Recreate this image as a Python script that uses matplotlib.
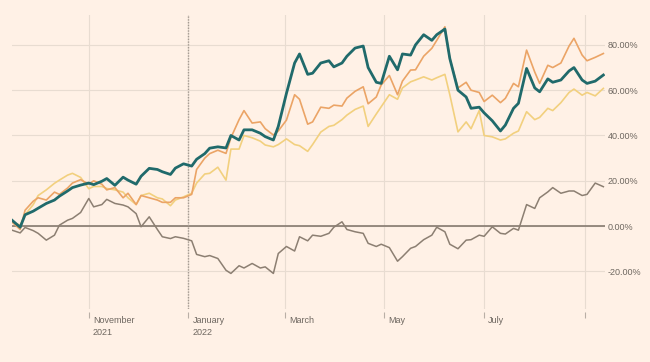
import matplotlib
matplotlib.use("Agg")
import matplotlib.pyplot as plt
import pandas as pd
from matplotlib.transforms import ScaledTranslation, blended_transform_factory

# ---- data (cumulative return, %) ----
dates = pd.bdate_range("2021-09-15", "2022-09-12")[::3]

teal = [2.6, -0.5, 5.0, 6.6, 7.9, 10.0, 11.5, 13.2, 15.5, 17.0,
        18.1, 19.0, 18.3, 19.8, 21.0, 18.0, 21.6, 20.3, 18.5, 22.0,
        25.5, 25.0, 24.0, 22.8, 25.6, 27.5, 26.5, 29.5, 32.0, 34.4,
        35.0, 34.5, 40.0, 38.0, 42.5, 42.5, 41.0, 39.5, 38.0, 44.0,
        58.6, 72.0, 76.0, 67.0, 67.5, 72.0, 73.0, 70.3, 72.0, 75.0,
        78.6, 79.5, 70.0, 63.5, 63.0, 75.0, 69.0, 76.0, 75.5, 80.0,
        84.5, 82.0, 84.5, 87.0, 74.0, 60.0, 57.0, 52.0, 52.5, 50.0,
        46.5, 42.0, 44.6, 52.0, 54.2, 69.6, 61.0, 59.3, 65.0, 63.5,
        64.5, 68.5, 70.0, 64.5, 63.0, 64.0, 66.7]

orange = [1.8, -1.5, 7.0, 11.0, 12.5, 11.5, 15.0, 14.0, 16.8, 19.0,
          20.5, 18.5, 20.0, 18.5, 16.0, 17.0, 12.5, 14.5, 9.5, 13.5,
          12.5, 11.5, 10.5, 10.5, 12.5, 12.5, 14.0, 25.0, 30.0, 32.0,
          33.5, 32.1, 39.0, 47.0, 51.0, 45.5, 46.0, 43.0, 40.2, 42.0,
          46.8, 58.0, 56.0, 45.0, 46.0, 52.5, 52.0, 53.4, 53.0, 56.5,
          59.5, 61.5, 54.0, 57.0, 62.3, 66.5, 58.0, 64.0, 68.9, 69.0,
          75.0, 78.5, 82.0, 88.0, 74.0, 61.0, 63.5, 60.0, 59.0, 55.0,
          57.8, 54.5, 56.4, 63.0, 61.5, 77.7, 68.0, 63.0, 71.0, 70.0,
          72.0, 79.5, 82.9, 75.5, 73.0, 74.5, 76.2]

yellow = [1.9, 0.4, 5.0, 9.5, 13.5, 16.0, 18.9, 20.3, 22.5, 23.3,
          21.5, 16.5, 17.5, 17.5, 16.6, 16.0, 15.0, 12.5, 9.5, 13.5,
          14.5, 12.5, 12.0, 9.0, 11.5, 12.9, 14.5, 19.0, 23.0, 23.3,
          26.0, 20.3, 34.0, 34.0, 40.0, 39.0, 37.5, 35.8, 35.0, 36.0,
          38.5, 36.0, 35.5, 33.0, 36.0, 41.5, 44.0, 44.5, 47.0, 49.0,
          51.5, 53.0, 44.0, 49.5, 52.7, 58.0, 56.0, 61.0, 63.7, 64.5,
          65.9, 64.5, 65.5, 67.0, 58.0, 41.6, 46.0, 43.0, 51.0, 40.0,
          39.4, 38.0, 38.5, 41.0, 42.0, 50.5, 47.0, 48.0, 52.0, 51.0,
          54.5, 59.0, 60.5, 57.8, 59.0, 57.5, 60.8]

brown = [-1.8, -3.0, -0.6, -2.0, -3.2, -6.2, -4.0, 0.4, 2.6, 3.4,
         6.0, 12.2, 8.5, 9.5, 11.8, 10.0, 9.3, 8.5, 5.5, -0.3,
         4.1, -1.5, -4.7, -5.5, -4.7, -5.4, -6.5, -12.5, -13.5, -13.0,
         -14.3, -19.5, -20.9, -17.5, -18.5, -16.5, -18.5, -18.0, -20.9, -12.1,
         -9.0, -11.0, -4.7, -6.5, -4.0, -4.5, -3.2, -0.5, 1.9, -1.5,
         -2.5, -3.2, -7.6, -9.0, -8.0, -9.5, -15.5, -13.5, -9.8, -9.0,
         -6.0, -4.0, -0.5, -2.5, -8.0, -10.0, -6.2, -6.0, -4.0, -4.5,
         -0.3, -3.2, -3.5, -1.0, -1.8, 9.5, 7.8, 12.5, 15.1, 17.0,
         14.5, 15.5, 15.5, 13.5, 14.0, 19.0, 17.4]

tick_dates = ["2021-11-01", "2022-01-01", "2022-03-01", "2022-05-01", "2022-07-01", "2022-09-01"]
tick_labels = ["November\n2021", "January\n2022", "March", "May", "July", ""]
y_ticks = [-20, 0, 20, 40, 60, 80]

# ---- style ----
bg = "#fff1e6"
grid_c = "#e8dcd1"
text_c = "#6e6760"
plt.rcParams["font.family"] = ["Liberation Sans", "DejaVu Sans"]

fig = plt.figure(figsize=(6.5, 3.62), dpi=100, facecolor=bg)
ax = fig.add_axes([12 / 650, (362 - 309) / 362, 593 / 650, (309 - 15) / 362])
ax.set_facecolor(bg)

ax.plot(dates, brown, color="#8c7f72", lw=1.1, zorder=3)
ax.plot(dates, yellow, color="#f2d07e", lw=1.2, zorder=4)
ax.plot(dates, orange, color="#eba466", lw=1.2, zorder=5)
ax.plot(dates, teal, color="#206a6b", lw=2.0, zorder=6)

ax.axhline(0, color="#867a6f", lw=1.2, zorder=2)
ax.axvline(pd.Timestamp("2022-01-01"), color="#a59b92", lw=1.0,
           ls=(0, (1, 1)), zorder=2)

ax.set_xlim(pd.Timestamp("2021-09-15"), pd.Timestamp("2022-09-13"))
ax.set_ylim(-36.6, 93.2)

ax.set_yticks(y_ticks)
ax.set_yticklabels([f"{v:.2f}%" for v in y_ticks])
ax.yaxis.tick_right()
ax.tick_params(axis="y", length=0, pad=2, labelsize=6.5, labelcolor=text_c)

tick_pos = pd.to_datetime(tick_dates)
ax.set_xticks(tick_pos)
ax.set_xticklabels([])
ax.tick_params(axis="x", length=4, width=0.8, color="#b9afa6")

trans = blended_transform_factory(ax.transData, ax.transAxes) + \
    ScaledTranslation(4 / 100, -7 / 100, fig.dpi_scale_trans)
for d, lab in zip(tick_pos, tick_labels):
    if lab:
        ax.text(d, 0, lab, transform=trans, ha="left", va="top",
                fontsize=6.5, color=text_c, linespacing=1.4)

ax.grid(axis="y", color=grid_c, lw=0.8, zorder=1)
ax.grid(axis="x", color=grid_c, lw=0.8, zorder=1)

for s in ax.spines.values():
    s.set_visible(False)
ax.spines["bottom"].set_position(("outward", 2))

fig.savefig("out.png", dpi=100, facecolor=bg)
